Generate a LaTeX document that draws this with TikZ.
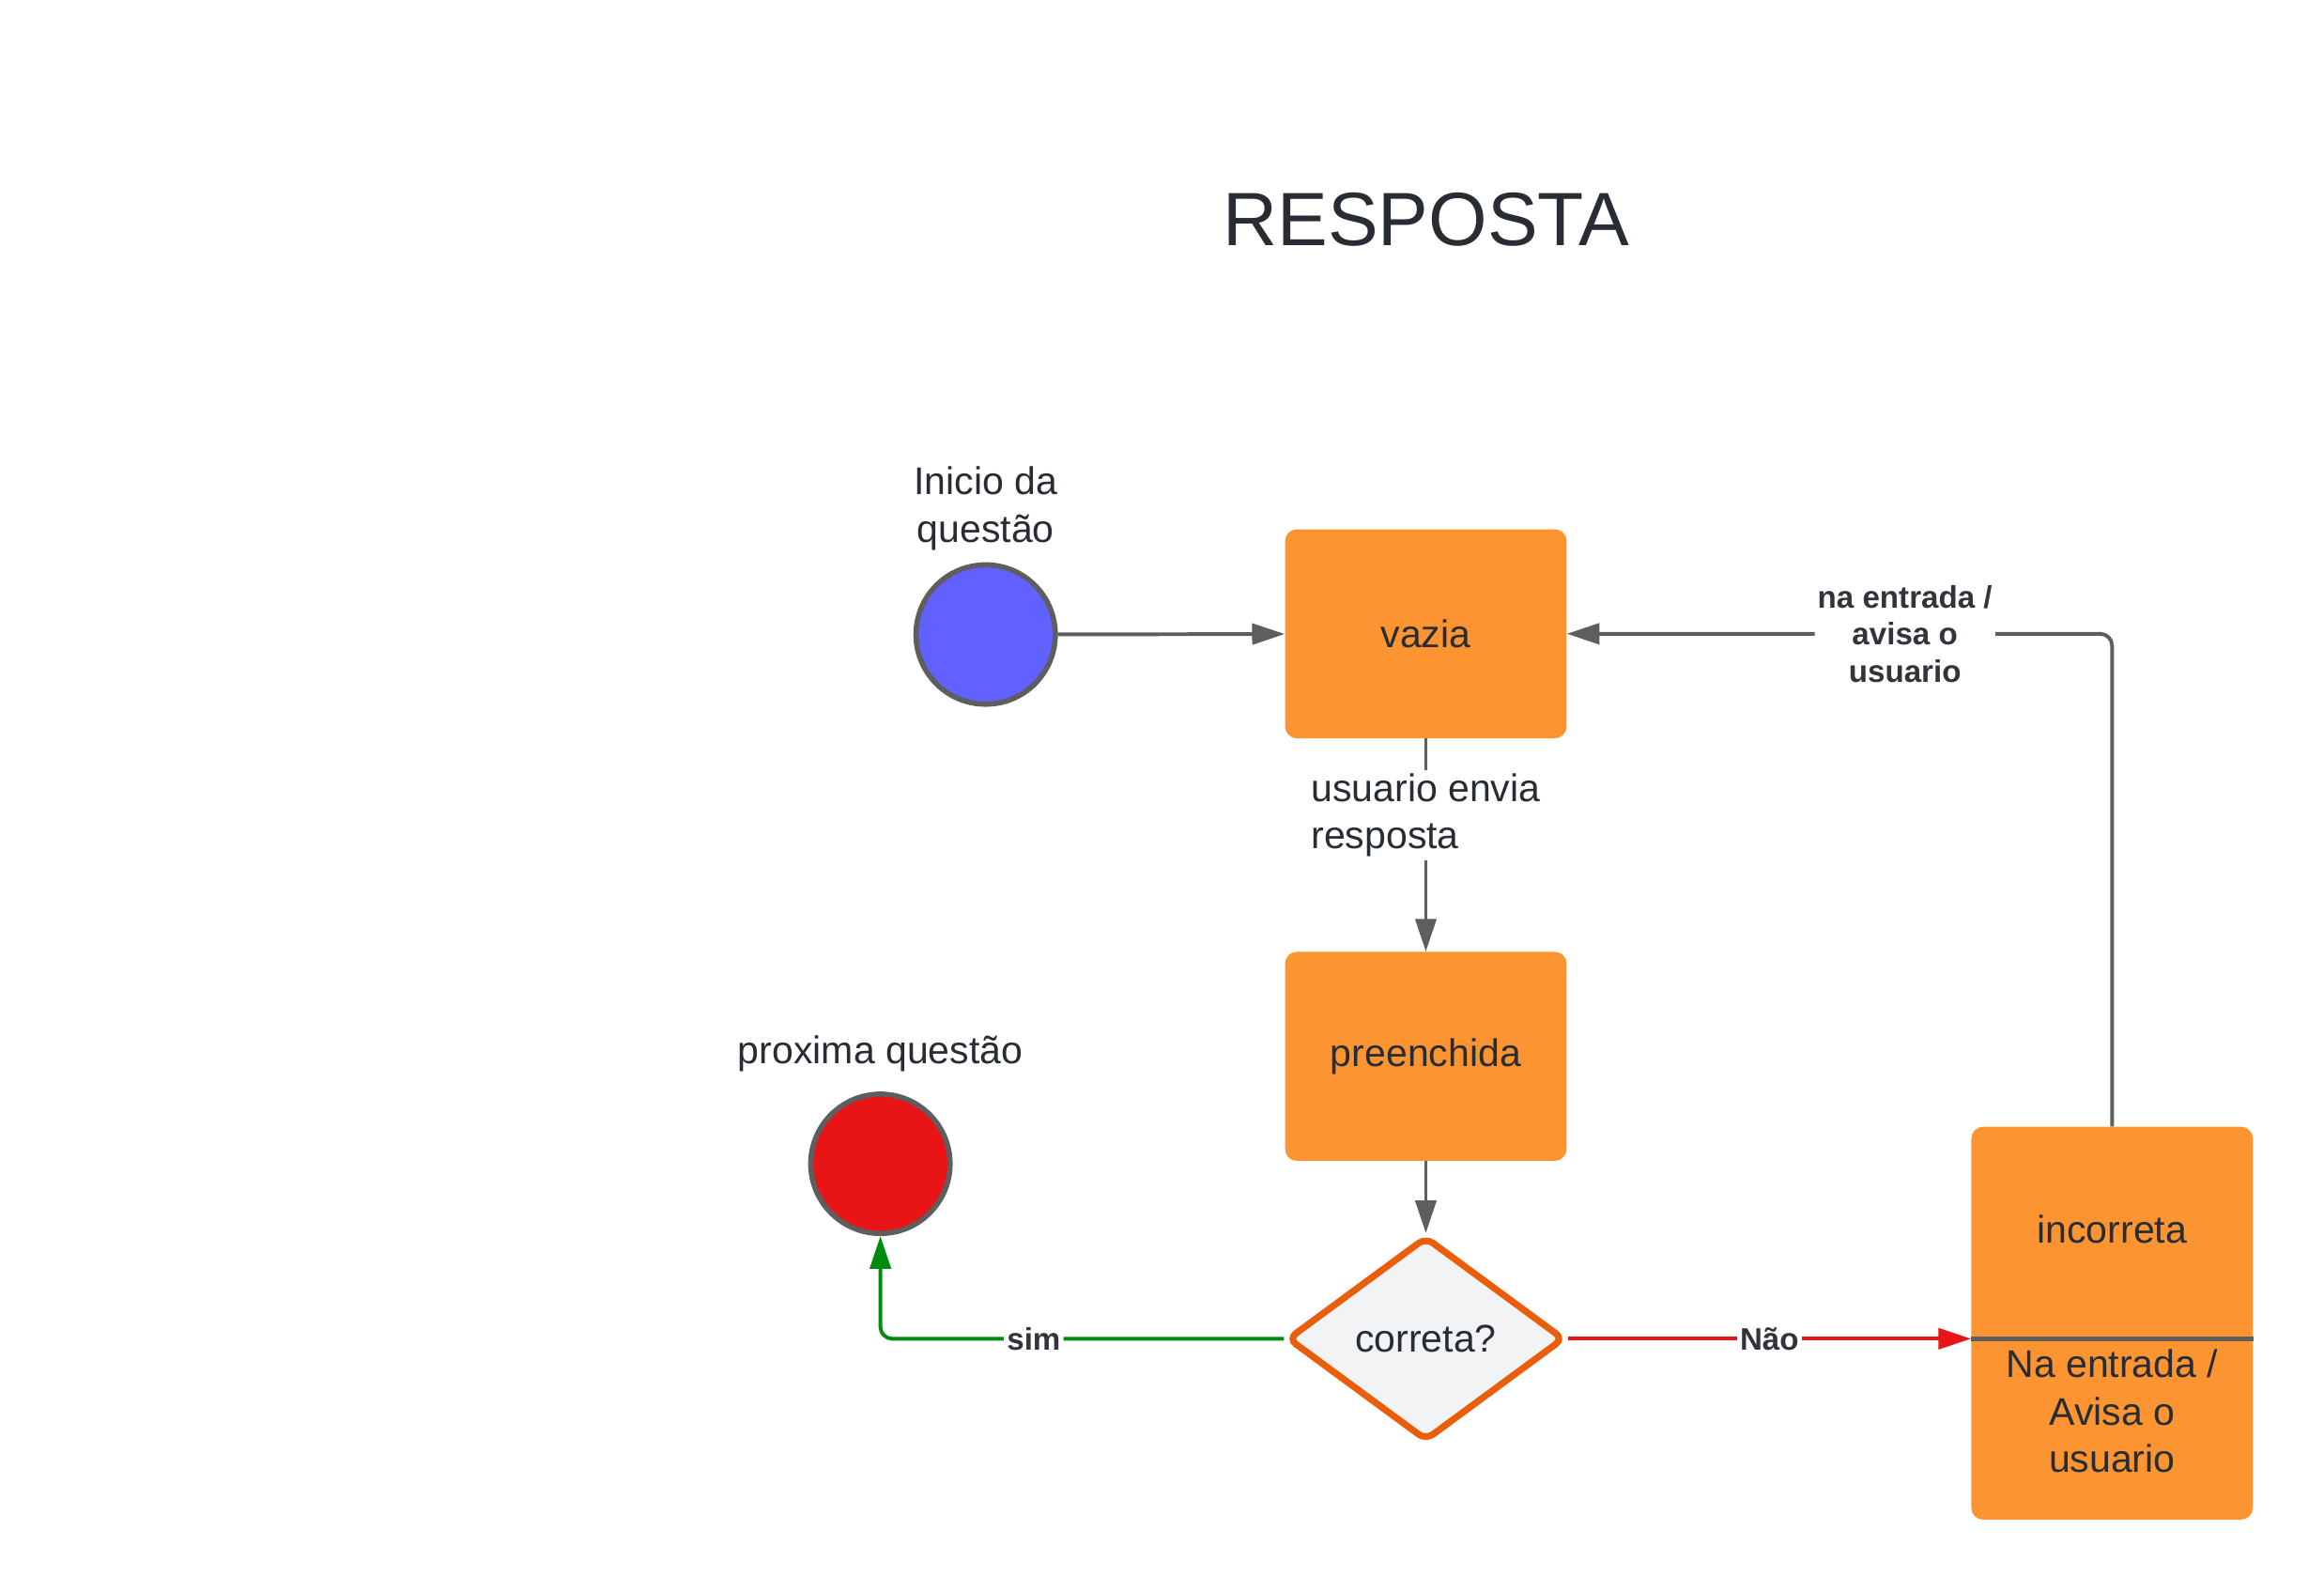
\documentclass[tikz,border=0pt]{standalone}
\usepackage{fontspec}
\setmainfont{Liberation Sans}
\usetikzlibrary{arrows.meta,shapes.geometric}

\definecolor{laranja}{HTML}{FC9432}
\definecolor{laranjaesc}{HTML}{EA5D0A}
\definecolor{cinza}{HTML}{5E5E5E}
\definecolor{texto}{HTML}{282C33}
\definecolor{azul}{HTML}{6161FF}
\definecolor{vermelho}{HTML}{E81416}
\definecolor{verde}{HTML}{008A0E}
\definecolor{fundo}{HTML}{F2F3F5}

\begin{document}
\begin{tikzpicture}[x=1pt,y=-1pt]

    \tikzset{estado/.style={fill=laranja,rounded corners=8pt,minimum width=190pt,minimum height=141pt,text=texto,font=\fontsize{26}{32}\selectfont},
             ponto/.style={draw=cinza,line width=3.5pt,shape=circle,minimum size=94pt,inner sep=0pt},
             rotulo/.style={text=texto,font=\fontsize{26}{32}\selectfont,align=center},
             negrito/.style={fill=white,text=texto!90!gray,font=\fontsize{21}{25}\selectfont\bfseries,align=center,inner sep=2pt}}
    \useasboundingbox (0,0) rectangle (1568,1073.8);

    \node[text=texto,font=\fontsize{51}{60}\selectfont] (titulo) at (962,148) {RESPOSTA};

    \node[ponto,fill=azul] (inicio) at (665,428) {};
    \node[rotulo] (linicio) at (665,343) {Inicio da\\questão};

    \node[ponto,fill=vermelho] (prox) at (594,785) {};
    \node[rotulo] (lprox) at (594,711) {proxima questão};

    \node[estado] (vazia) at (962,427.5) {vazia};
    \node[estado] (pre) at (962,712.5) {preenchida};

    \node[shape=diamond,draw=laranjaesc,fill=fundo,line width=4.5pt,rounded corners=6pt,
          minimum width=187pt,minimum height=138pt,inner sep=0pt,aspect=1.35,
          text=texto,font=\fontsize{26}{32}\selectfont] (cor) at (962,903) {correta?};

    \node[fill=laranja,rounded corners=8pt,minimum width=190pt,minimum height=265pt] (inc) at (1425,892.5) {};
    \node[rotulo] (linc) at (1425,829) {incorreta};
    \node[rotulo] (linc2) at (1425,952) {Na entrada /\\Avisa o\\usuario};
    \draw[cinza,line width=3pt] (inc.west |- cor.east) -- (inc.east |- cor.east);

    \begin{scope}[every path/.style={-{Triangle[length=22pt,width=14pt]},line width=2.5pt}]
        \draw[cinza] (inicio) -- (vazia);
        \draw[cinza] (vazia) -- node[rotulo,fill=white,align=left,inner sep=2pt,pos=0.36] {usuario envia\\resposta} (pre);
        \draw[cinza] (pre) -- (cor);

        \draw[verde,rounded corners=8pt] (cor.west) -| node[negrito,pos=0.31] {sim} (prox.south);
        \draw[vermelho] (cor.east) -- node[negrito] {Não} (cor.east -| inc.west);

        \draw[cinza,rounded corners=8pt] (inc.north) |- node[negrito,pos=0.69] {na entrada /\\avisa o\\usuario} (vazia.east);
    \end{scope}

\end{tikzpicture}
\end{document}
